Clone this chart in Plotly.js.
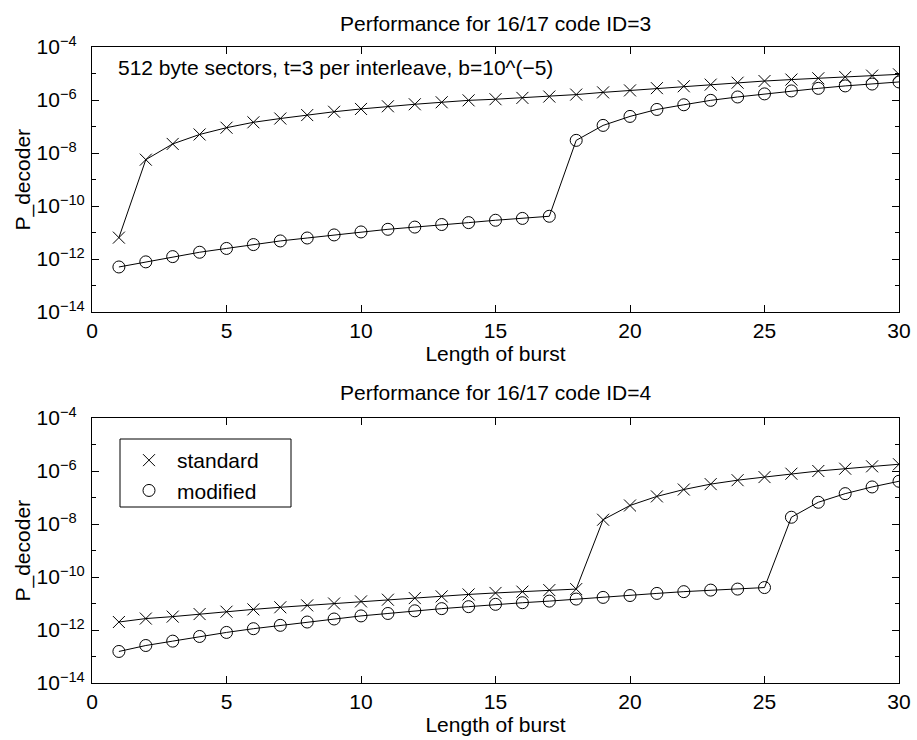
<!DOCTYPE html>
<html>
<head>
<meta charset="utf-8">
<script src="https://cdn.plot.ly/plotly-3.0.1.min.js"></script>
<style>html,body{margin:0;padding:0;background:#fff;}#chart{width:917px;height:740px;}</style>
</head>
<body>
<div id="chart"></div>
<script>
// Burst lengths
const burstLength = [1,2,3,4,5,6,7,8,9,10,11,12,13,14,15,16,17,18,19,20,21,22,23,24,25,26,27,28,29,30];

// Top panel: 16/17 code ID=3
const id3Standard = [6.4e-12,5.6e-9,2.2e-8,5.0e-8,9.0e-8,1.44e-7,2.0e-7,2.7e-7,3.6e-7,4.6e-7,5.8e-7,6.9e-7,8.2e-7,9.7e-7,1.07e-6,1.2e-6,1.35e-6,1.6e-6,1.94e-6,2.3e-6,2.8e-6,3.3e-6,3.8e-6,4.5e-6,5.2e-6,5.9e-6,6.6e-6,7.4e-6,8.3e-6,9.3e-6];
const id3Modified = [5.0e-13,7.8e-13,1.23e-12,1.8e-12,2.5e-12,3.5e-12,4.8e-12,6.2e-12,8.1e-12,1.05e-11,1.32e-11,1.6e-11,2.0e-11,2.36e-11,2.9e-11,3.4e-11,4.1e-11,3.0e-8,1.1e-7,2.4e-7,4.4e-7,6.6e-7,9.7e-7,1.3e-6,1.7e-6,2.2e-6,2.75e-6,3.4e-6,4.0e-6,4.8e-6];

// Bottom panel: 16/17 code ID=4
const id4Standard = [2.0e-12,2.7e-12,3.2e-12,4.0e-12,4.9e-12,6.0e-12,7.2e-12,8.5e-12,1.0e-11,1.2e-11,1.39e-11,1.6e-11,1.86e-11,2.2e-11,2.5e-11,2.8e-11,3.2e-11,3.5e-11,1.45e-8,5.0e-8,1.1e-7,2.0e-7,3.2e-7,4.5e-7,5.9e-7,7.9e-7,1.0e-6,1.22e-6,1.5e-6,1.8e-6];
const id4Modified = [1.55e-13,2.6e-13,3.8e-13,5.7e-13,8.1e-13,1.12e-12,1.5e-12,2.0e-12,2.6e-12,3.4e-12,4.2e-12,5.3e-12,6.4e-12,7.6e-12,9.3e-12,1.07e-11,1.23e-11,1.47e-11,1.7e-11,2.0e-11,2.4e-11,2.8e-11,3.2e-11,3.5e-11,4.0e-11,1.8e-8,6.6e-8,1.4e-7,2.5e-7,4.1e-7];

// Axis ticks
const yMajorExponents = [-14, -12, -10, -8, -6, -4];
const yMinorExponents = [-13, -11, -9, -7, -5];
const xTickValues = [0, 5, 10, 15, 20, 25, 30];

const seriesNames = ['standard','modified'];
const panelTitles = ['Performance for 16/17 code ID=3','Performance for 16/17 code ID=4'];
const noteText = '512 byte sectors, t=3 per interleave, b=10^(\u22125)';
const xTitle = 'Length of burst';
const yTitle = 'P_decoder';

const FONT = 'Liberation Sans, Arial, Helvetica, sans-serif';
const FS = 21;
const W = 917, H = 740;
const px = v => v / W;
const py = v => 1 - v / H;

// "10" bases aligned like MATLAB: pad one-digit exponents with a figure space
const yTickVals = yMajorExponents.map(e => Math.pow(10, e));
const yTickText = yMajorExponents.map(e => {
  const s = '\u2212' + Math.abs(e);
  return '10<sup>' + s + (Math.abs(e) < 10 ? '\u2007' : '') + '</sup>';
});
const yMinorVals = yMinorExponents.map(e => Math.pow(10, e));

function trace(y, sym, xa, ya) {
  return {
    x: burstLength, y: y, xaxis: xa, yaxis: ya,
    mode: 'lines+markers', showlegend: false,
    line: {color: '#000', width: 1},
    marker: {symbol: sym, size: 12, color: '#000', line: {color: '#000', width: 1}}
  };
}

const data = [
  trace(id3Standard, 'x-thin-open', 'x', 'y'),
  trace(id3Modified, 'circle-open', 'x', 'y'),
  trace(id4Standard, 'x-thin-open', 'x2', 'y2'),
  trace(id4Modified, 'circle-open', 'x2', 'y2'),
  {x: [null], y: [null], xaxis: 'x2', yaxis: 'y2', mode: 'markers', name: seriesNames[0],
   marker: {symbol: 'x-thin-open', size: 12, color: '#000', line: {color: '#000', width: 1}}},
  {x: [null], y: [null], xaxis: 'x2', yaxis: 'y2', mode: 'markers', name: seriesNames[1],
   marker: {symbol: 'circle-open', size: 12, color: '#000', line: {color: '#000', width: 1}}}
];

const txtFont = {family: FONT, size: FS, color: '#000'};

function xAxis(anchor) {
  return {
    domain: [px(92), px(899)], anchor: anchor, range: [0, 30],
    tickmode: 'array', tickvals: xTickValues,
    ticks: 'inside', ticklen: 7, tickcolor: '#000', mirror: 'ticks',
    showline: true, linecolor: '#000', linewidth: 1, showgrid: false, zeroline: false,
    tickfont: txtFont,
    title: {text: xTitle, font: txtFont, standoff: 4}
  };
}
function yAxis(anchor, dom) {
  return {
    domain: dom, anchor: anchor, type: 'log', range: [-14, -4],
    tickmode: 'array', tickvals: yTickVals, ticktext: yTickText,
    ticks: 'inside', ticklen: 7, tickcolor: '#000', mirror: 'ticks', ticklabelstandoff: 2,
    minor: {tickmode: 'array', tickvals: yMinorVals, ticks: 'inside', ticklen: 4, tickcolor: '#000', showgrid: false},
    showline: true, linecolor: '#000', linewidth: 1, showgrid: false, zeroline: false,
    tickfont: txtFont
  };
}

const layout = {
  width: W, height: H,
  margin: {l: 0, r: 0, t: 0, b: 0},
  paper_bgcolor: '#fff', plot_bgcolor: '#fff',
  font: txtFont,
  xaxis: xAxis('y'),
  yaxis: yAxis('x', [py(312), py(47)]),
  xaxis2: xAxis('y2'),
  yaxis2: yAxis('x2', [py(683), py(418)]),
  showlegend: true,
  legend: {
    x: px(121), y: py(440), xanchor: 'left', yanchor: 'top',
    borderwidth: 0, bgcolor: 'rgba(0,0,0,0)',
    font: txtFont, tracegroupgap: 0, itemwidth: 46
  },
  shapes: [
    {type: 'rect', xref: 'paper', yref: 'paper', x0: px(120), x1: px(291), y0: py(507), y1: py(439),
     line: {color: '#000', width: 1}, fillcolor: 'rgba(0,0,0,0)', layer: 'above'}
  ],
  annotations: [
    {text: panelTitles[0], xref: 'paper', yref: 'paper', x: px(495.5), y: py(23),
     xanchor: 'center', yanchor: 'middle', showarrow: false, font: txtFont},
    {text: panelTitles[1], xref: 'paper', yref: 'paper', x: px(495.5), y: py(392),
     xanchor: 'center', yanchor: 'middle', showarrow: false, font: txtFont},
    {text: yTitle, xref: 'paper', yref: 'paper', x: px(22), y: py(179.5), textangle: -90,
     xanchor: 'center', yanchor: 'middle', showarrow: false, font: txtFont},
    {text: yTitle, xref: 'paper', yref: 'paper', x: px(22), y: py(550.5), textangle: -90,
     xanchor: 'center', yanchor: 'middle', showarrow: false, font: txtFont},
    {text: noteText, xref: 'paper', yref: 'paper', x: px(116), y: py(68),
     xanchor: 'left', yanchor: 'middle', showarrow: false, font: txtFont}
  ]
};

Plotly.newPlot('chart', data, layout, {staticPlot: true, displayModeBar: false});
</script>
</body>
</html>
